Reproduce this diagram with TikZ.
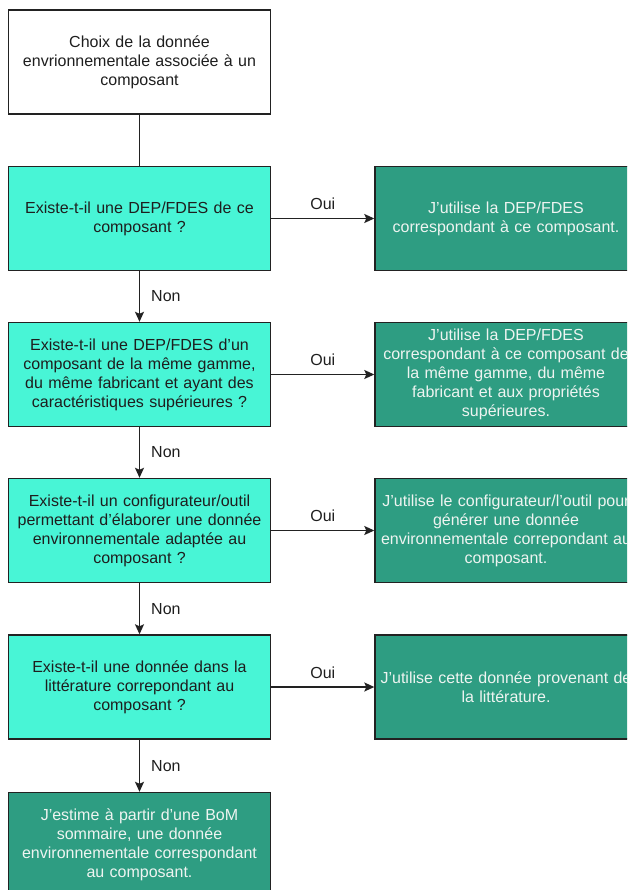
\documentclass[tikz,border=0pt]{standalone}
\usepackage{fontspec}
\setmainfont{Liberation Sans}[Ligatures=ResetAll]
\usetikzlibrary{arrows.meta}
\definecolor{cyanfill}{HTML}{48F5D6}
\definecolor{darkfill}{HTML}{2E9D82}
\definecolor{edge}{HTML}{222222}
\definecolor{lighttext}{HTML}{EEF4F1}
\definecolor{darktext}{HTML}{1E1E1E}
\tikzset{
  base/.style={rectangle, draw=edge, line width=1.4pt, minimum width=262pt, minimum height=104pt,
    text width=258pt, align=center, inner sep=0pt, font=\fontsize{16}{19}\selectfont},
  startbox/.style={base, fill=white, text=darktext},
  qbox/.style={base, fill=cyanfill, text=darktext},
  abox/.style={base, fill=darkfill, text=lighttext},
  conn/.style={draw=edge, line width=1.4pt},
  arr/.style={conn, -{Stealth[length=10pt,width=9pt,inset=2pt]}},
  lbl/.style={font=\fontsize{16}{18}\selectfont, text=darktext, inner sep=0pt},
}
\begin{document}
\begin{tikzpicture}[x=1pt,y=-1pt]
\clip (0,0) rectangle (627,890);
\fill[white] (0,0) rectangle (627,890);
\node[startbox] (s) at (139.5,62) {Choix de la donnée\\envrionnementale associée à un\\composant};
\node[qbox] (q1) at (139.5,218.5) {Existe-t-il une DEP/FDES de ce\\composant ?};
\node[qbox] (q2) at (139.5,374.5) {Existe-t-il une DEP/FDES d'un\\composant de la même gamme,\\du même fabricant et ayant des\\caractéristiques supérieures ?};
\node[qbox] (q3) at (139.5,530.5) {Existe-t-il un configurateur/outil\\permettant d'élaborer une donnée\\environnementale adaptée au\\composant ?};
\node[qbox] (q4) at (139.5,687) {Existe-t-il une donnée dans la\\littérature correpondant au\\composant ?};
\node[abox] (e) at (139.5,844.5) {J'estime à partir d'une BoM\\sommaire, une donnée\\environnementale correspondant\\au composant.};
\node[abox] (a1) at (506,218.5) {J'utilise la DEP/FDES\\correspondant à ce composant.};
\node[abox] (a2) at (506,374.5) {J'utilise la DEP/FDES\\correspondant à ce composant de\\la même gamme, du même\\fabricant et aux propriétés\\supérieures.};
\node[abox] (a3) at (506,530.5) {J'utilise le configurateur/l'outil pour\\générer une donnée\\environnementale correpondant au\\composant.};
\node[abox] (a4) at (506,687) {J'utilise cette donnée provenant de\\la littérature.};
\draw[conn] (s) -- (q1);
\draw[arr] (q1) -- node[lbl, right=11pt] {Non} (q2);
\draw[arr] (q2) -- node[lbl, right=11pt] {Non} (q3);
\draw[arr] (q3) -- node[lbl, right=11pt] {Non} (q4);
\draw[arr] (q4) -- node[lbl, right=11pt] {Non} (e);
\draw[arr] (q1) -- node[lbl, above=8pt] {Oui} (a1);
\draw[arr] (q2) -- node[lbl, above=8pt] {Oui} (a2);
\draw[arr] (q3) -- node[lbl, above=8pt] {Oui} (a3);
\draw[arr] (q4) -- node[lbl, above=8pt] {Oui} (a4);
\end{tikzpicture}
\end{document}
